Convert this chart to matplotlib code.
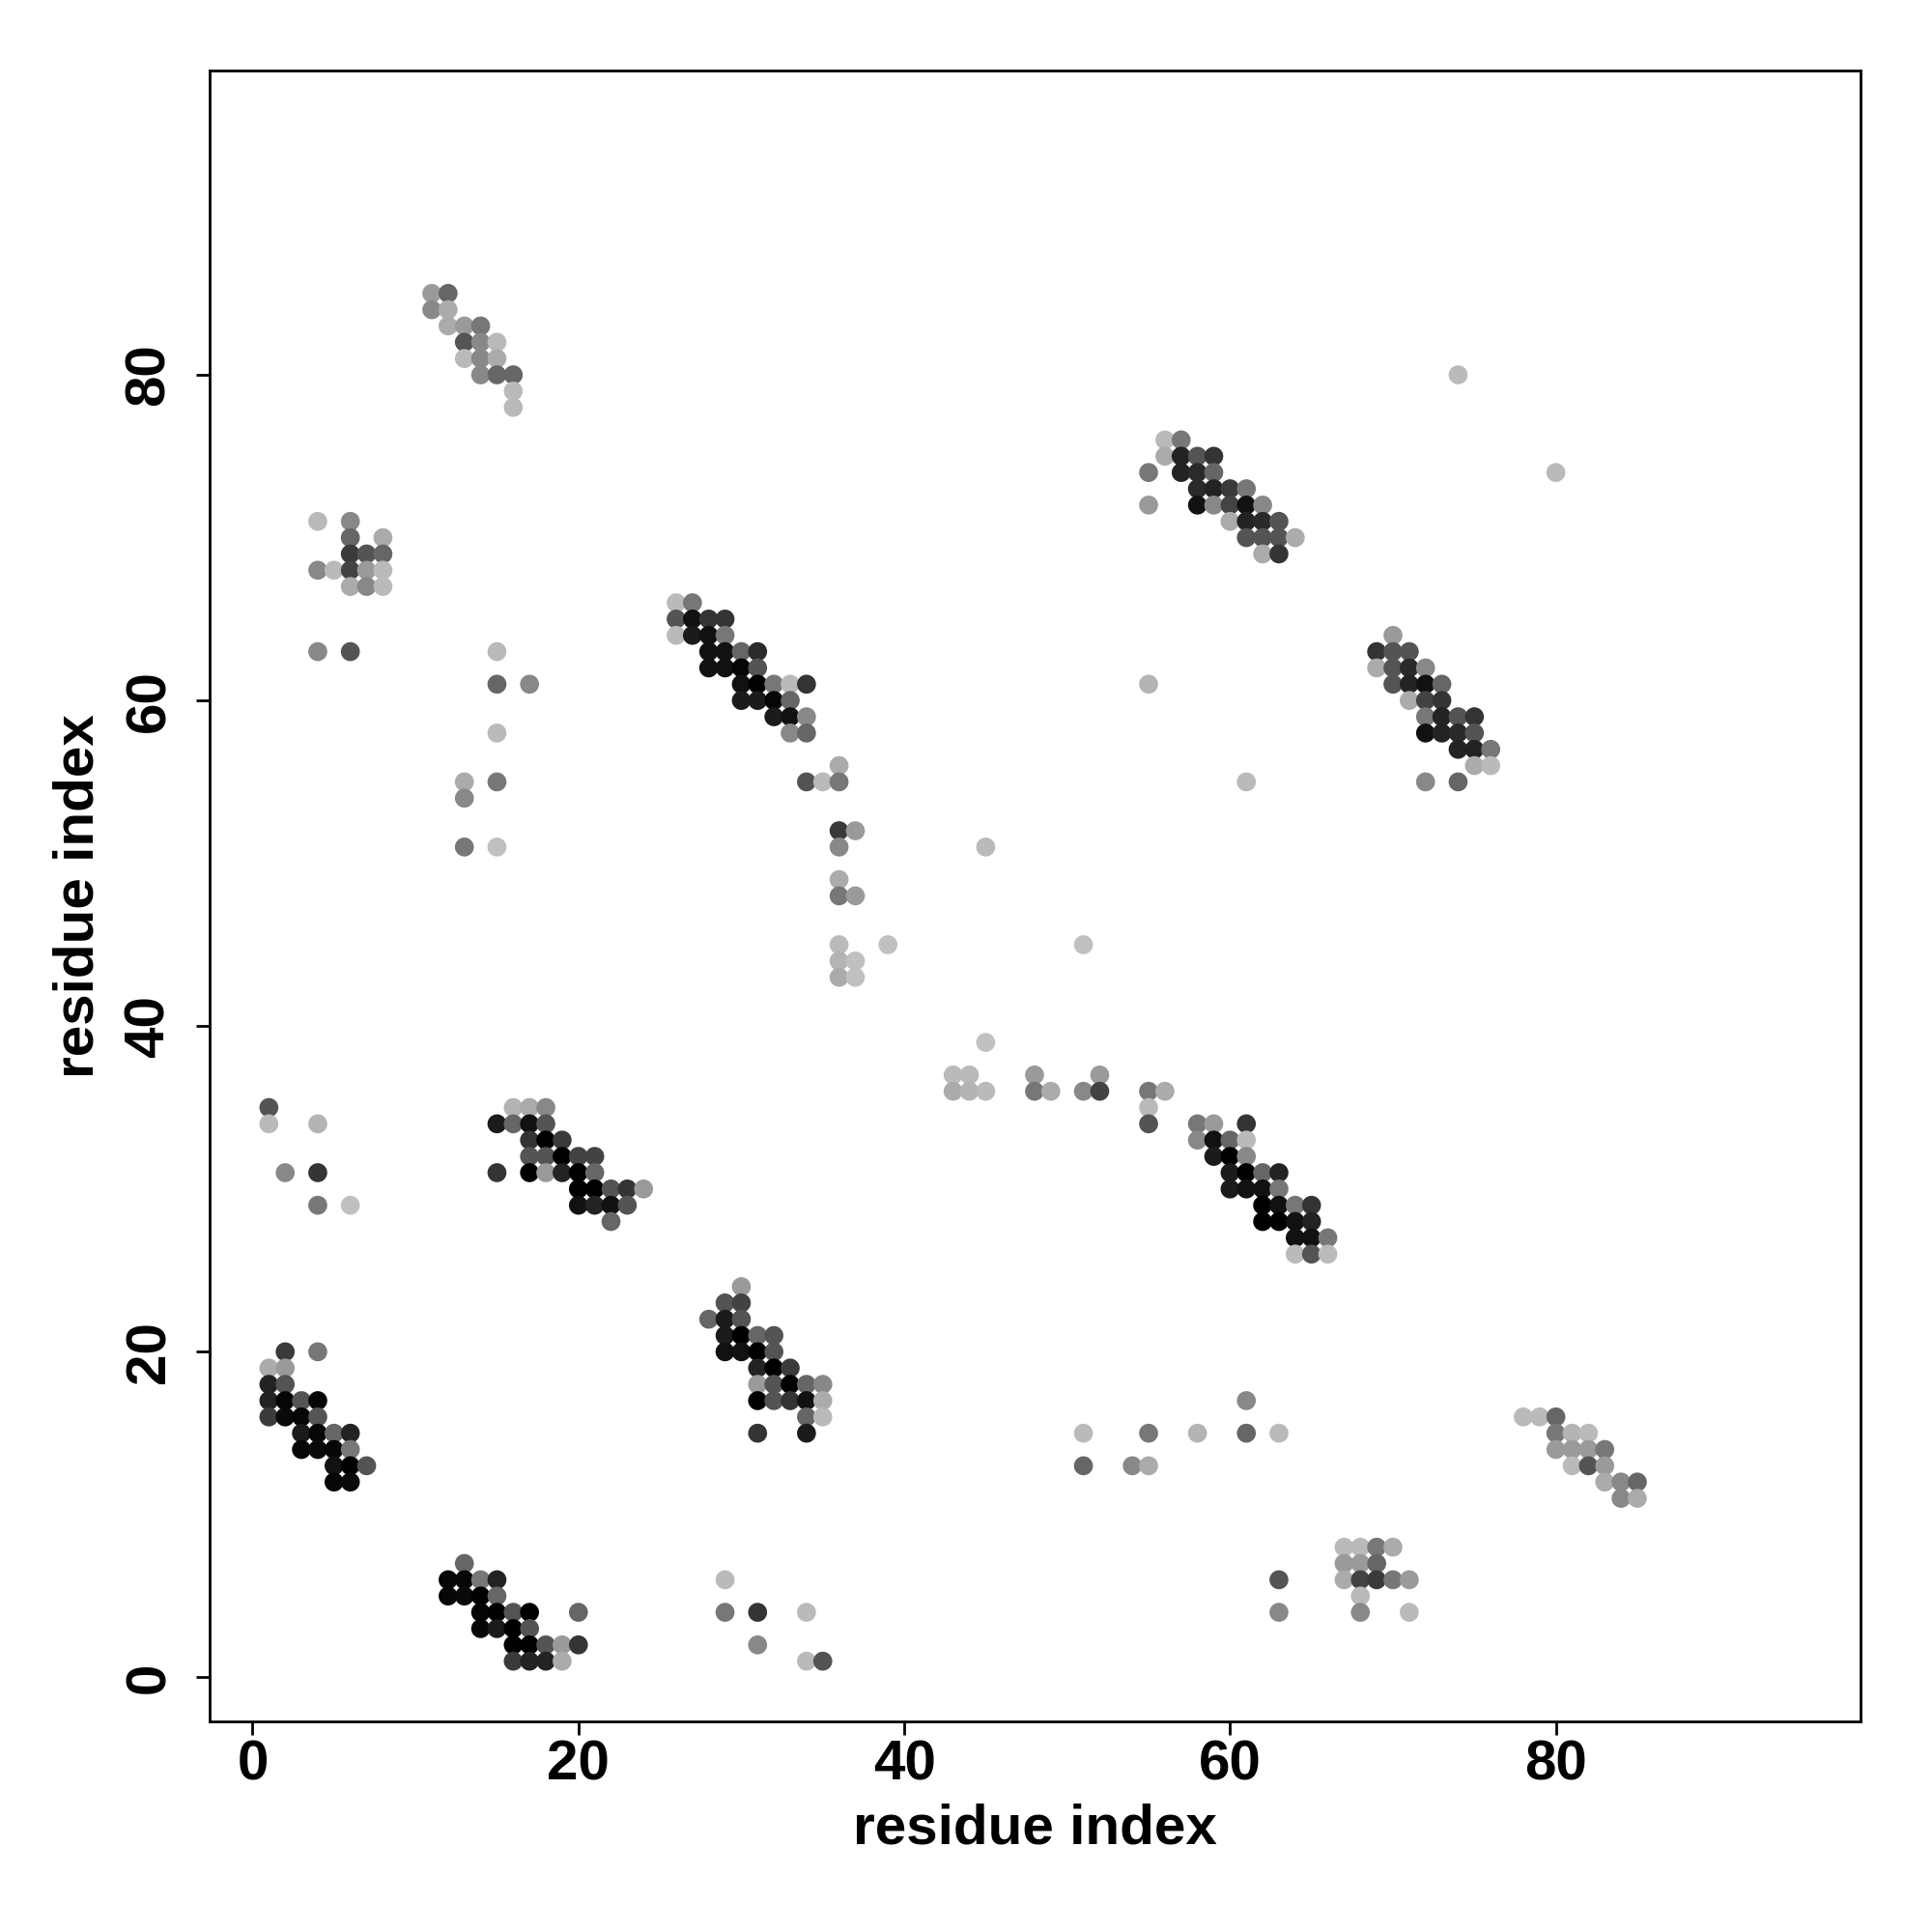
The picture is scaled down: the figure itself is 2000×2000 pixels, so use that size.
import matplotlib.pyplot as plt
import numpy as np

# contact map: residue i, residue j, contact probability
res_i = [
    # block near (13, 82)
    11, 12, 11, 12, 12, 13, 14, 13, 14, 15, 13, 14, 15, 14, 15, 16, 16, 16,
    # block near (6, 68)
    4, 6, 6, 8, 6, 7, 8, 4, 5, 6, 7, 8, 6, 7, 8, 4, 6,
    # scattered around x=15
    15, 15, 17, 15, 13, 15, 13, 13, 15,
    # scattered left edge
    1, 1, 4, 2, 4, 4, 6,
    # block near (19, 32)
    16, 17, 18, 15, 16, 17, 18, 17, 18, 19, 17, 18, 19, 20, 21,
    15, 17, 18, 19, 20, 21, 20, 21, 22, 23, 24, 20, 21, 22, 23, 22,
    # block near (30, 62)
    26, 27, 26, 27, 28, 29, 26, 27, 28, 29, 28, 29, 30, 31, 28, 29, 30, 31,
    30, 31, 32, 33, 34, 30, 31, 32, 33, 32, 33, 34, 33, 34,
    # column near x=36
    36, 34, 35, 36, 36, 37, 36, 36, 36, 37, 36, 39, 36, 37, 36, 37,
    # block near (59, 73)
    56, 57, 56, 57, 58, 59, 55, 57, 58, 59, 58, 59, 60, 61,
    55, 58, 59, 60, 61, 62, 60, 61, 62, 63, 61, 62, 63, 64, 62, 63,
    # isolated points
    55, 74, 80, 61, 45, 51, 45,
    # block near (72, 60)
    70, 69, 70, 71, 69, 70, 71, 72, 70, 71, 72, 73, 71, 72, 73,
    72, 73, 74, 75, 72, 73, 74, 75, 74, 75, 76, 75, 76, 72, 74,
    # row near y=36
    43, 44, 48, 52, 43, 44, 45, 48, 49, 51, 52, 55, 56, 55,
    # block near (61, 31)
    55, 58, 59, 61, 58, 59, 60, 61, 59, 60, 61, 60, 61, 62, 63, 60, 61, 62, 63,
    62, 63, 64, 65, 62, 63, 64, 65, 64, 65, 66, 64, 65, 66,
    # block near (31, 19)
    30, 29, 30, 28, 29, 30, 29, 30, 31, 32, 29, 30, 31, 32, 31, 32, 33,
    31, 32, 33, 34, 35, 31, 32, 33, 34, 35, 34, 35, 31, 34,
    # block near (3, 16)
    2, 4, 1, 2, 1, 2, 1, 2, 3, 4, 1, 2, 3, 4, 3, 4, 5, 6, 3, 4, 5, 6, 5, 6, 7, 5, 6,
    # block near (15, 4)
    13, 12, 13, 14, 15, 12, 13, 14, 15, 14, 15, 16, 17, 20, 14, 15, 16, 17,
    16, 17, 18, 19, 20, 16, 17, 18, 19,
    # scattered bottom
    29, 29, 31, 34, 31, 34, 35,
    51, 55, 58, 61, 63, 61, 51, 54, 55, 63, 63,
    # block near (69, 6)
    67, 68, 69, 70, 67, 68, 69, 67, 68, 69, 70, 71, 68, 68, 71,
    # block near (82, 14)
    78, 79, 80, 80, 81, 82, 80, 81, 82, 83, 81, 82, 83, 83, 84, 85, 84, 85,
]

res_j = [
    85, 85, 84, 84, 83, 83, 83, 82, 82, 82, 81, 81, 81, 80, 80, 80, 79, 78,
    71, 71, 70, 70, 69, 69, 69, 68, 68, 68, 68, 68, 67, 67, 67, 63, 63,
    63, 61, 61, 58, 55, 55, 54, 51, 51,
    35, 34, 34, 31, 31, 29, 29,
    35, 35, 35, 34, 34, 34, 34, 33, 33, 33, 32, 32, 32, 32, 32,
    31, 31, 31, 31, 31, 31, 30, 30, 30, 30, 30, 29, 29, 29, 29, 28,
    66, 66, 65, 65, 65, 65, 64, 64, 64, 64, 63, 63, 63, 63, 62, 62, 62, 62,
    61, 61, 61, 61, 61, 60, 60, 60, 60, 59, 59, 59, 58, 58,
    56, 55, 55, 55, 52, 52, 51, 49, 48, 48, 45, 45, 44, 44, 43, 43,
    76, 76, 75, 75, 75, 75, 74, 74, 74, 74, 73, 73, 73, 73,
    72, 72, 72, 72, 72, 72, 71, 71, 71, 71, 70, 70, 70, 70, 69, 69,
    61, 80, 74, 55, 51, 45, 39,
    64, 63, 63, 63, 62, 62, 62, 62, 61, 61, 61, 61, 60, 60, 60,
    59, 59, 59, 59, 58, 58, 58, 58, 57, 57, 57, 56, 56, 55, 55,
    37, 37, 37, 37, 36, 36, 36, 36, 36, 36, 36, 36, 36, 35,
    34, 34, 34, 34, 33, 33, 33, 33, 32, 32, 32, 31, 31, 31, 31, 30, 30, 30, 30,
    29, 29, 29, 29, 28, 28, 28, 28, 27, 27, 27, 26, 26, 26,
    24, 23, 23, 22, 22, 22, 21, 21, 21, 21, 20, 20, 20, 20, 19, 19, 19,
    18, 18, 18, 18, 18, 17, 17, 17, 17, 17, 16, 16, 15, 15,
    20, 20, 19, 19, 18, 18, 17, 17, 17, 17, 16, 16, 16, 16, 15, 15, 15, 15, 14, 14, 14, 14, 13, 13, 13, 12, 12,
    7, 6, 6, 6, 6, 5, 5, 5, 5, 4, 4, 4, 4, 4, 3, 3, 3, 3,
    2, 2, 2, 2, 2, 1, 1, 1, 1,
    6, 4, 4, 4, 2, 1, 1,
    15, 15, 15, 15, 15, 17, 13, 13, 13, 6, 4,
    8, 8, 8, 8, 7, 7, 7, 6, 6, 6, 6, 6, 5, 4, 4,
    16, 16, 16, 15, 15, 15, 14, 14, 14, 14, 13, 13, 13, 12, 12, 12, 11, 11,
]

prob = [
    .20, .47, .29, .11, .11, .20, .38, .56, .29, .03, .03, .29, .11, .29, .47, .47, .03, .03,
    .03, .29, .47, .11, .70, .56, .47, .29, .03, .65, .20, .03, .11, .29, .03, .29, .56,
    .03, .47, .29, .03, .11, .38, .29, .38, .00,
    .56, .03, .06, .29, .73, .38, .00,
    .06, .11, .29, .86, .47, .91, .56, .73, 1.0, .70, .56, .56, 1.0, .65, .65,
    .73, 1.0, .20, .82, 1.0, .47, 1.0, 1.0, .56, .73, .20, .91, .82, .91, .56, .47,
    .03, .38, .56, .91, .73, .73, .03, .86, .91, .38, .91, .91, .47, .78, .91, .91, .97, .56,
    .91, 1.0, .38, .03, .73, .86, .86, .97, .47, .86, .91, .29, .29, .47,
    .11, .56, .03, .38, .70, .20, .29, .11, .38, .20, .03, .00, .06, .00, .11, .00,
    .03, .38, .11, .82, .56, .73, .38, .82, .78, .47, .78, .82, .70, .38,
    .20, .91, .29, .65, .91, .29, .11, .82, .78, .56, .56, .56, .56, .11, .11, .73,
    .06, .03, .03, .03, .03, .00, .00,
    .20, .73, .56, .56, .11, .56, .78, .29, .56, .82, .91, .47, .11, .65, .73,
    .38, .82, .56, .73, .91, .82, .78, .56, .82, .82, .38, .11, .03, .29, .47,
    .03, .03, .20, .20, .11, .06, .03, .38, .11, .29, .65, .38, .11, .03,
    .56, .38, .20, .73, .29, .91, .47, .03, .86, 1.0, .29, .86, 1.0, .47, .82, .86, .91, .91, .38,
    1.0, .91, .38, .73, 1.0, 1.0, .91, .82, .91, .91, .38, .03, .56, .03,
    .20, .56, .65, .47, .86, .56, .86, 1.0, .47, .56, .91, .91, 1.0, .56, .82, 1.0, .70,
    .20, .56, 1.0, .47, .29, 1.0, .56, .73, .91, .11, .47, .03, .73, .86,
    .70, .38, .11, .20, .82, .56, .82, .97, .56, .97, .70, .95, .97, .56, .86, .97, .47, .82, .97, .95, .97, .38, .91, 1.0, .56, .97, .95,
    .47, .97, .97, .38, .82, .97, .95, 1.0, .47, .97, 1.0, .56, 1.0, .47, .97, .86, 1.0, .56,
    1.0, 1.0, .56, .20, .73, .70, .82, .82, .11,
    .03, .38, .73, .03, .29, .03, .56,
    .03, .38, .06, .47, .03, .29, .47, .29, .11, .56, .29,
    .03, .03, .38, .11, .20, .20, .47, .11, .65, .70, .38, .20, .03, .29, .03,
    .03, .03, .47, .38, .06, .03, .20, .20, .20, .38, .03, .56, .20, .11, .29, .47, .29, .11,
]

plt.rcParams["font.family"] = ["Liberation Sans", "DejaVu Sans"]
plt.rcParams["font.weight"] = "bold"

fig = plt.figure(figsize=(10, 10), dpi=200)
ax = fig.add_axes([0.1084, 0.109, 0.8546, 0.8546])

# darker grey = higher probability
grey = 0.753 * (1 - np.array(prob))
colours = [str(g) for g in grey]
ax.scatter(res_i, res_j, s=50, c=colours, edgecolors="none")

ax.set_xlim(-2.65, 98.7)
ax.set_ylim(-2.7, 98.7)

ticks = [0, 20, 40, 60, 80]
ax.set_xticks(ticks)
ax.set_yticks(ticks)
ax.set_xticklabels([str(t) for t in ticks], fontsize=21, fontweight="bold")
ax.set_yticklabels([str(t) for t in ticks], fontsize=21, fontweight="bold",
                   rotation=90, va="center")
ax.tick_params(length=5, width=1.0)
ax.tick_params(axis="x", pad=1.5)
ax.tick_params(axis="y", pad=7.5)
for sp in ax.spines.values():
    sp.set_linewidth(1.0)

ax.set_xlabel("residue index", fontsize=21, fontweight="bold", labelpad=4.5)
ax.set_ylabel("residue index", fontsize=21, fontweight="bold", labelpad=7)

fig.savefig("out.png", dpi=200, facecolor="white")
